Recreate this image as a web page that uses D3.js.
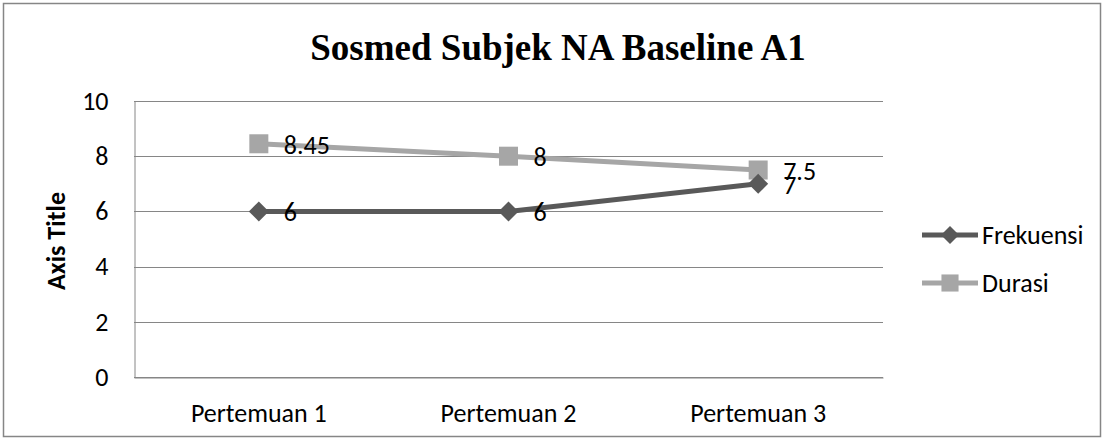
<!DOCTYPE html>
<html>
<head>
<meta charset="utf-8">
<script src="https://cdn.jsdelivr.net/npm/d3@7"></script>
<style>
  html, body { margin: 0; padding: 0; background: #fff; }
  svg { display: block; }
</style>
</head>
<body>
<svg id="chart" width="1104" height="440"></svg>
<script>
// Chart data
const categories = ["Pertemuan 1", "Pertemuan 2", "Pertemuan 3"];
const frekuensi = [6, 6, 7];
const durasi = [8.45, 8, 7.5];
const yTicks = [0, 2, 4, 6, 8, 10];
const seriesNames = ["Frekuensi", "Durasi"];

const svg = d3.select("#chart");
const W = 1104, H = 440;
const labelFont = "Carlito, Lato, 'Open Sans', sans-serif";
const labelSize = 26;

// Outer frame
svg.append("rect")
  .attr("x", 3.5).attr("y", 3.5)
  .attr("width", W - 7).attr("height", H - 7)
  .attr("fill", "#fff").attr("stroke", "#868686").attr("stroke-width", 1.5);

const plot = { left: 134, right: 883, top: 101, bottom: 377 };

const x = d3.scaleBand().domain(categories).range([plot.left, plot.right]);
const y = d3.scaleLinear().domain([0, 10]).range([plot.bottom, plot.top]);

// Title
svg.append("text")
  .attr("x", 558).attr("y", 60)
  .attr("text-anchor", "middle")
  .attr("font-family", "'Liberation Serif', 'Times New Roman', serif")
  .attr("font-weight", "bold")
  .attr("font-size", 37)
  .text("Sosmed Subjek NA Baseline A1");

// Horizontal gridlines
svg.append("g").selectAll("line").data(yTicks).join("line")
  .attr("x1", plot.left).attr("x2", plot.right)
  .attr("y1", d => Math.round(y(d)) + 0.5).attr("y2", d => Math.round(y(d)) + 0.5)
  .attr("stroke", "#868686").attr("stroke-width", 1);

// Y axis
const yAxis = svg.append("g")
  .attr("transform", `translate(${plot.left + 0.5},0)`)
  .call(d3.axisLeft(y).tickValues(yTicks).tickSize(0).tickPadding(26));
yAxis.select(".domain").attr("stroke", "#868686");
yAxis.selectAll("text")
  .attr("font-family", labelFont).attr("font-size", labelSize).attr("fill", "#000");

// X axis
const xAxis = svg.append("g")
  .attr("transform", `translate(0,${plot.bottom + 0.5})`)
  .call(d3.axisBottom(x).tickSize(0).tickPadding(26));
xAxis.select(".domain").attr("stroke", "#868686");
xAxis.selectAll("text")
  .attr("font-family", labelFont).attr("font-size", labelSize).attr("fill", "#000");

// Y axis title
svg.append("text")
  .attr("transform", `translate(65,${(plot.top + plot.bottom) / 2 + 2}) rotate(-90)`)
  .attr("text-anchor", "middle")
  .attr("font-family", labelFont).attr("font-weight", "bold").attr("font-size", labelSize)
  .text("Axis Title");

const cx = c => x(c) + x.bandwidth() / 2;
const line = d3.line().x(d => cx(d.c)).y(d => y(d.v));

const series = [
  { name: seriesNames[0], values: frekuensi, color: "#595959", marker: "diamond" },
  { name: seriesNames[1], values: durasi, color: "#a6a6a6", marker: "square" }
];

function drawMarker(g, type, color, r) {
  if (type === "diamond") {
    g.append("path").attr("d", `M0,${-r}L${r},0L0,${r}L${-r},0Z`).attr("fill", color);
  } else {
    const s = r * 0.95;
    g.append("rect").attr("x", -s).attr("y", -s).attr("width", 2 * s).attr("height", 2 * s).attr("fill", color);
  }
}

// Lighter series first, darker one over it
[series[1], series[0]].forEach(s => {
  const pts = categories.map((c, i) => ({ c, v: s.values[i] }));
  svg.append("path").datum(pts)
    .attr("d", line).attr("fill", "none")
    .attr("stroke", s.color).attr("stroke-width", 5);
  pts.forEach(p => {
    const g = svg.append("g").attr("transform", `translate(${cx(p.c)},${y(p.v)})`);
    drawMarker(g, s.marker, s.color, 10);
  });
});

// Data labels
series.forEach(s => {
  categories.forEach((c, i) => {
    svg.append("text")
      .attr("x", cx(c) + 25).attr("y", y(s.values[i]) + 10)
      .attr("font-family", labelFont).attr("font-size", labelSize)
      .text(s.values[i]);
  });
});

// Legend
const legend = svg.append("g");
series.forEach((s, i) => {
  const ly = 235 + i * 48;
  const g = legend.append("g").attr("transform", `translate(922,${ly})`);
  g.append("line").attr("x1", 0).attr("x2", 56).attr("y1", 0).attr("y2", 0)
    .attr("stroke", s.color).attr("stroke-width", 5);
  const m = g.append("g").attr("transform", "translate(28,0)");
  drawMarker(m, s.marker, s.color, 9);
  g.append("text").attr("x", 60).attr("y", 9)
    .attr("font-family", labelFont).attr("font-size", labelSize)
    .text(s.name);
});
</script>
</body>
</html>
